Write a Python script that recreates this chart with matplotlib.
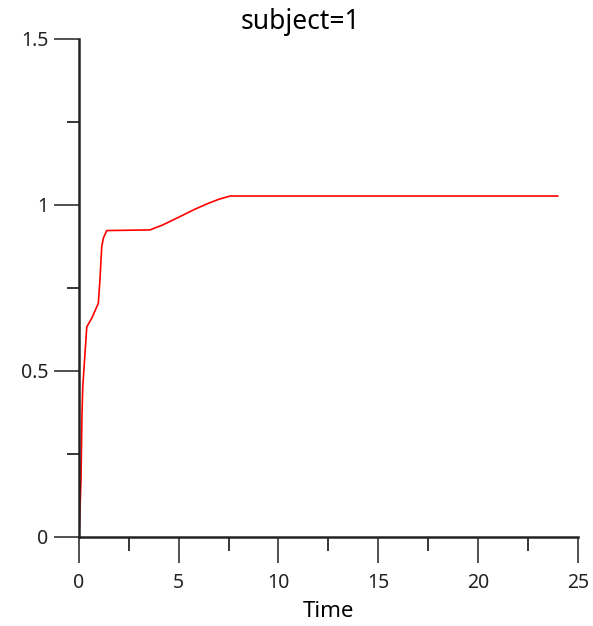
import matplotlib.pyplot as plt
from matplotlib.ticker import MultipleLocator

plt.rcParams['font.family'] = ['Noto Sans', 'DejaVu Sans']

# response over time for subject 1
time = [0, 0.1, 0.15, 0.19, 0.39, 0.64, 0.97, 1.05, 1.14, 1.22, 1.39,
        2.5, 3.56, 4.2, 5.06, 5.8, 6.4, 7.0, 7.57, 10, 15, 20, 24]
response = [0, 0.17, 0.37, 0.453, 0.633, 0.659, 0.704, 0.774, 0.874, 0.9, 0.923,
            0.924, 0.925, 0.94, 0.965, 0.987, 1.003, 1.017, 1.027, 1.027, 1.027, 1.027, 1.027]

fig = plt.figure(figsize=(5.93, 6.26), dpi=100)
ax = fig.add_axes([0.1332, 0.1422, 0.841, 0.7955])

ax.plot(time, response, color='#ff0000', lw=1.2)

ax.set_xlim(0, 25)
ax.set_ylim(0, 1.5)
ax.xaxis.set_major_locator(MultipleLocator(5))
ax.xaxis.set_minor_locator(MultipleLocator(2.5))
ax.yaxis.set_major_locator(MultipleLocator(0.5))
ax.yaxis.set_minor_locator(MultipleLocator(0.25))
ax.yaxis.set_major_formatter(plt.FuncFormatter(lambda v, p: f'{v:g}'))

for s in ['top', 'right']:
    ax.spines[s].set_visible(False)
for s in ['left', 'bottom']:
    ax.spines[s].set_linewidth(1.8)
    ax.spines[s].set_color('#222222')

ax.tick_params(axis='x', which='major', length=19, width=1.1, pad=7, labelsize=14, colors='#222222')
ax.tick_params(axis='x', which='minor', length=10, width=1.1)
ax.tick_params(axis='y', which='major', length=18, width=1.1, pad=4, labelsize=14, colors='#222222')
ax.tick_params(axis='y', which='minor', length=8.5, width=1.1)

ax.set_xlabel('Time', fontsize=16, labelpad=6)
fig.text(0.507, 1 - 22 / 626, 'subject=1', fontsize=19, ha='center', va='center')

plt.savefig('out.png', dpi=100)
